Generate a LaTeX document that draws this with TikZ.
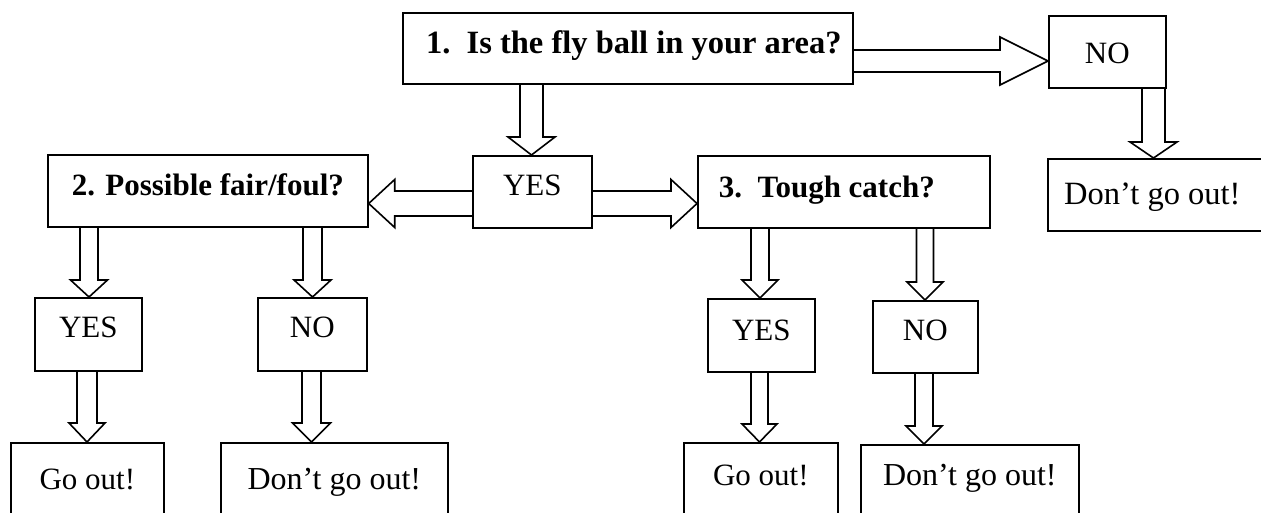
\documentclass[tikz,border=0pt]{standalone}
\usepackage{fontspec}
\setmainfont{Liberation Serif}
\usetikzlibrary{calc}
\tikzset{
  box/.style={draw, line width=1.7pt, inner sep=0pt, anchor=north west,
    font=\fontsize{31}{36}\selectfont},
  qbox/.style={box, font=\fontsize{31}{36}\selectfont\bfseries},
  blk/.style={draw, line width=1.6pt, line join=miter}
}
% down arrow: src, dst, x centre, shaft half, head half, head length
\newcommand\arrdown[6]{%
  \pgfmathsetmacro\myaL{#3-#4}\pgfmathsetmacro\myaR{#3+#4}%
  \pgfmathsetmacro\myhL{#3-#5}\pgfmathsetmacro\myhR{#3+#5}%
  \draw[blk] (\myaL,0 |- #1.south) -- ($(\myaL,0 |- #2.north)+(0pt,#6pt)$)
    -- ($(\myhL,0 |- #2.north)+(0pt,#6pt)$) -- (#3,0 |- #2.north)
    -- ($(\myhR,0 |- #2.north)+(0pt,#6pt)$) -- ($(\myaR,0 |- #2.north)+(0pt,#6pt)$)
    -- (\myaR,0 |- #1.south);}
% right arrow: src, dst, y centre, shaft half, head half, head length
\newcommand\arrright[6]{%
  \pgfmathsetmacro\myaT{#3-#4}\pgfmathsetmacro\myaB{#3+#4}%
  \pgfmathsetmacro\myhT{#3-#5}\pgfmathsetmacro\myhB{#3+#5}%
  \draw[blk] (#1.east |- 0,\myaT) -- ($(#2.west |- 0,\myaT)+(-#6pt,0pt)$)
    -- ($(#2.west |- 0,\myhT)+(-#6pt,0pt)$) -- (#2.west |- 0,#3)
    -- ($(#2.west |- 0,\myhB)+(-#6pt,0pt)$) -- ($(#2.west |- 0,\myaB)+(-#6pt,0pt)$)
    -- (#1.east |- 0,\myaB);}
% left arrow
\newcommand\arrleft[6]{%
  \pgfmathsetmacro\myaT{#3-#4}\pgfmathsetmacro\myaB{#3+#4}%
  \pgfmathsetmacro\myhT{#3-#5}\pgfmathsetmacro\myhB{#3+#5}%
  \draw[blk] (#1.west |- 0,\myaT) -- ($(#2.east |- 0,\myaT)+(#6pt,0pt)$)
    -- ($(#2.east |- 0,\myhT)+(#6pt,0pt)$) -- (#2.east |- 0,#3)
    -- ($(#2.east |- 0,\myhB)+(#6pt,0pt)$) -- ($(#2.east |- 0,\myaB)+(#6pt,0pt)$)
    -- (#1.west |- 0,\myaB);}
\begin{document}
\begin{tikzpicture}[x=1pt,y=-1pt]
\useasboundingbox (0,0) rectangle (1261,512);
\clip (0,0) rectangle (1261,512);
\fill[white] (0,0) rectangle (1261,512);
% nodes
\node[qbox, font=\fontsize{32.5}{38}\selectfont\bfseries, minimum width=450pt, text height=41pt, text depth=30pt] (q1) at (402,12) {1.~~Is the fly ball in your area?\hspace*{-12pt}};
\node[box, minimum width=117pt, text height=48pt, text depth=24pt] (no1) at (1048,15) {NO};
\node[box, font=\fontsize{32.5}{38}\selectfont, minimum width=217pt, text height=46pt, text depth=26pt] (dont1) at (1047,158) {Don’t go out!\hspace*{8pt}};
\node[box, minimum width=119pt, text height=40pt, text depth=32pt] (yes0) at (472,155) {YES};
\node[qbox, minimum width=320pt, text height=41pt, text depth=31pt] (q2) at (47,154) {2. Possible fair/foul?};
\node[qbox, minimum width=292pt, text height=42pt, text depth=30pt] (q3) at (697,155) {3.~~Tough catch?\hspace*{34pt}};
\node[box, minimum width=107pt, text height=40pt, text depth=33pt] (yesL) at (34,297) {YES};
\node[box, minimum width=109pt, text height=40pt, text depth=33pt] (noL) at (257,297) {NO};
\node[box, minimum width=153pt, text height=47pt, text depth=43pt] (goL) at (10,442) {Go out!};
\node[box, font=\fontsize{32}{38}\selectfont, minimum width=227pt, text height=47pt, text depth=43pt] (dontL) at (220,442) {Don’t go out!};
\node[box, minimum width=107pt, text height=42pt, text depth=31pt] (yesR) at (707,298) {YES};
\node[box, minimum width=105pt, text height=40pt, text depth=32pt] (noR) at (872,300) {NO};
\node[box, minimum width=154pt, text height=43pt, text depth=45pt] (goR) at (683,442) {Go out!};
\node[box, font=\fontsize{32}{38}\selectfont, minimum width=218pt, text height=41pt, text depth=45pt] (dontR) at (860,444) {Don’t go out!};
% connectors
\arrright{q1}{no1}{61}{11}{24}{48}
\arrdown{q1}{yes0}{531.5}{11.5}{23.5}{18}
\arrleft{yes0}{q2}{203.5}{12.5}{24}{26}
\arrright{yes0}{q3}{203.5}{12.5}{24}{26}
\arrdown{no1}{dont1}{1153.5}{11.5}{23.5}{16}
\arrdown{q2}{yesL}{89}{9}{18.5}{17}
\arrdown{q2}{noL}{312.5}{9.5}{18.5}{17}
\arrdown{yesL}{goL}{87}{10}{18}{19}
\arrdown{noL}{dontL}{311.5}{9.5}{19}{19}
\arrdown{q3}{yesR}{760}{9}{18}{18}
\arrdown{q3}{noR}{925}{8.5}{18}{18}
\arrdown{yesR}{goR}{759.5}{8.5}{17.5}{18}
\arrdown{noR}{dontR}{924}{9}{18}{18}
\end{tikzpicture}
\end{document}
